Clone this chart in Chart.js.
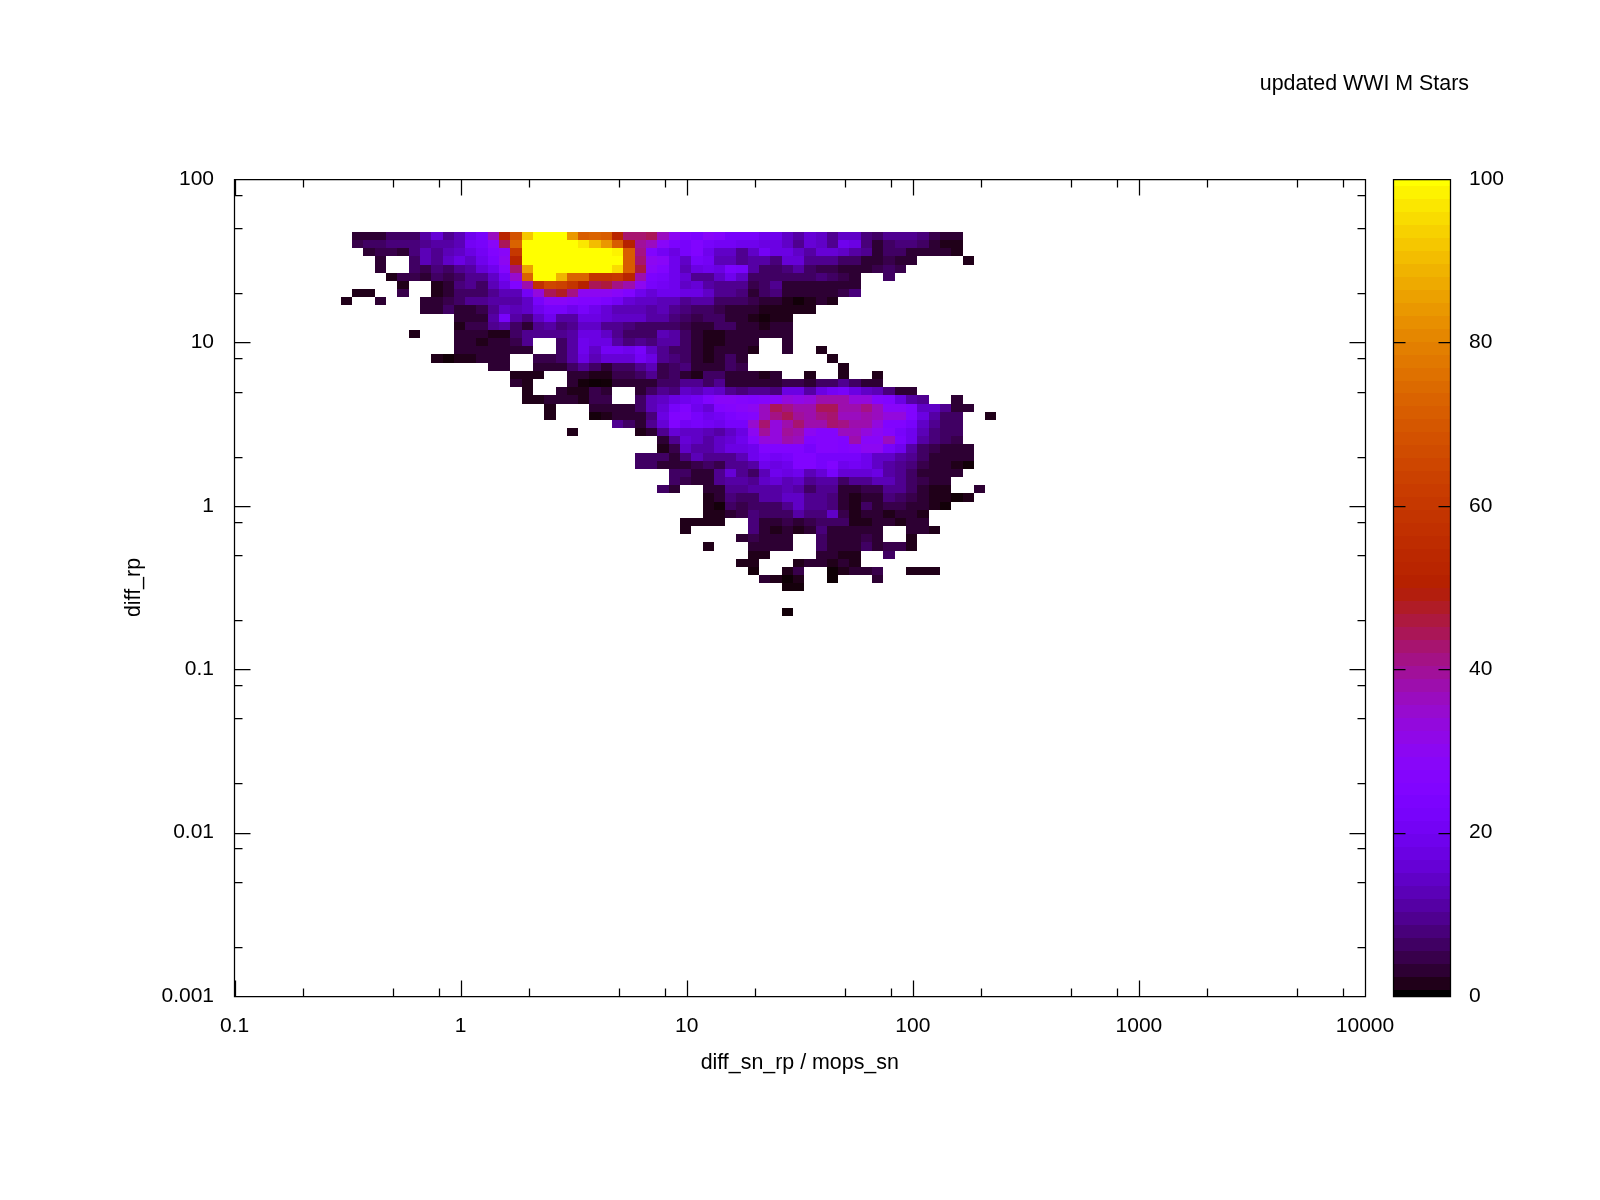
<!DOCTYPE html>
<html>
<head>
    <title>updated WWI M Stars</title>
    <script src="https://cdn.jsdelivr.net/npm/chart.js"></script>
    <style>
        html, body { margin: 0; padding: 0; background: #fff; }
        canvas { display: block; }
    </style>
</head>
<body>
    <canvas id="heatChart" width="1600" height="1200"></canvas>

<script>
// axis ticks
var xMajorTicks = [0.1, 1, 10, 100, 1000, 10000];
var yMajorTicks = [0.001, 0.01, 0.1, 1, 10, 100];
var minorMantissas = [2, 5, 8];
var cbTicks = [0, 20, 40, 60, 80, 100];

// log10 position of the bins: first column left edge, first row top edge, bin width
var xBinStart = -0.53;
var yBinTop = 1.676;
var binStep = 0.05;

// counts, one list per row from the top, null = empty cell
// rowStartCols gives the column of the first entry in each row
var rowStartCols = [1,1,2,3,3,4,5,1,0,7,10,10,6,10,10,8,13,15,15,16,16,18,18,24,20,28,28,26,26,29,29,28,32,32,32,30,30,35,32,36,35,36,37,39,0,0,39];

var r00 = [3,3,3,5,5,5,11,15,9,12,19,22,35,51,68,92,100,100,100,83,70,72,70,52,42,42,43,36,30,24,23,27,26,22,21,21,19,18,14,10,15,14,9,14,13,7,5,8,8,8,7,4,2,2];
var r01 = [4,5,6,7,7,7,8,11,10,12,20,22,27,43,73,100,100,100,100,100,96,90,84,70,50,39,36,27,23,22,25,21,20,20,18,19,17,16,14,9,15,13,9,19,16,7,3,5,7,7,6,3,1,1];
var r02 = [3,4,4,3,7,12,8,12,13,16,20,24,28,59,100,100,100,100,100,100,100,100,97,70,40,24,20,17,21,25,19,14,13,9,13,20,16,17,14,10,15,15,13,11,9,3,5,5,3,3,2,2,1];
var r03 = [2,null,null,6,12,9,13,16,14,18,23,30,52,100,100,100,100,100,100,100,100,100,70,42,30,27,19,14,22,20,12,12,8,11,11,7,15,15,8,9,9,6,6,3,2,4,3,2,null,null,null,null,1];
var r04 = [2,null,null,5,4,7,5,8,11,15,19,26,42,85,100,100,100,100,100,100,100,94,70,46,27,25,18,12,17,18,16,23,21,10,5,5,7,11,6,4,4,3,3,2,4,6,4];
var r05 = [1,4,4,3,5,4,5,8,9,13,20,34,72,100,100,88,73,72,58,58,60,52,37,23,21,19,15,9,8,14,19,13,5,5,5,5,5,6,7,5,4,3,null,null,5];
var r06 = [1,null,null,1,3,7,8,5,12,16,24,38,57,65,62,58,50,44,46,40,38,30,22,20,19,14,15,11,8,8,8,4,6,9,3,3,3,2,3,3,3];
var r07 = [1,1,null,null,4,null,null,1,3,6,6,5,8,12,12,20,33,43,47,40,30,29,29,27,25,18,15,19,19,16,17,14,8,8,7,3,5,7,3,2,2,2,2,4,7];
var r08 = [1,null,null,2,null,null,null,3,2,4,6,8,8,10,11,10,14,22,27,27,26,24,24,23,20,15,13,13,12,12,9,11,11,6,6,5,4,3,3,1,0.5,1,2,1];
var r09 = [2,2,5,3,2,4,9,14,12,14,18,22,22,19,22,18,15,12,12,12,10,12,8,7,6,6,4,3,3,2,1,1,1,1,1];
var r10 = [3,2,3,11,21,10,7,14,19,10,11,17,16,15,14,13,13,11,10,7,5,4,5,6,3,2,1,0.7,1,1];
var r11 = [1,4,4,8,11,6,3,9,11,7,9,14,14,8,8,7,5,5,5,5,4,3,3,6,6,3,2,1,2,2];
var r12 = [1,null,null,null,2,2,2,1,1,5,8,8,8,8,10,16,16,13,8,5,6,6,12,11,5,3,1,1,3,3,3,3,3,3];
var r13 = [2,2,1,2,2,4,8,null,null,6,10,18,16,17,10,7,8,7,10,10,5,3,1,1,3,3,2,null,null,3];
var r14 = [2,3,3,2,3,2,2,null,null,6,10,18,13,20,20,19,22,13,9,6,6,2,1,2,3,3,1,null,null,3,null,null,1];
var r15 = [1,0.5,1,1,3,2,3,null,null,4,4,5,10,17,12,15,15,15,20,16,8,7,6,3,1.5,2,5,3,null,null,null,null,null,null,null,1];
var r16 = [2,3,null,null,3,3,3,5,8,5,2,5,5,9,12,4,6,7,3,3,3,5,4,null,null,null,null,null,null,null,null,1];
var r17 = [1.5,1,1.5,null,null,3,2,1,1,4,4,6,8,4,5,3,1,5,6,3,3,3,1.5,2,null,null,1,null,null,1,null,null,1];
var r18 = [3,1,null,null,null,2,0.7,0.3,0.5,3,3,2,2,5,6,8,8,5,8,3,2,2,2,2,4,4,3,6,6,8,6,3,3];
var r19 = [1,null,null,2,1.5,1,4,3,null,null,3,6,8,7,13,12,15,14,9,7,9,9,7,17,17,11,16,20,22,17,13,12,7,2,2];
var r20 = [1,1,2,2,2,1,4,4,null,null,6,12,14,17,19,20,24,27,28,26,25,26,27,32,31,33,37,38,38,33,32,26,24,16,10,8,null,null,2];
var r21 = [1.5,null,null,null,3,3,3,3,6,12,15,22,24,18,15,25,26,27,30,36,43,40,38,38,43,43,38,38,41,36,28,28,25,14,14,9,3,2];
var r22 = [1,null,null,null,0.7,1,3,3,2,7,16,25,26,21,19,20,23,24,26,35,41,43,39,37,40,42,36,35,37,36,33,33,24,17,10,6,5,null,null,1];
var r23 = [8,5,2,9,15,25,20,21,20,19,21,22,34,42,32,37,42,38,38,42,41,37,38,33,25,25,21,13,8,5,5];
var r24 = [1,null,null,null,null,null,1,3,9,15,14,14,12,11,13,17,29,39,32,39,37,30,26,26,35,35,33,30,26,22,19,12,7,5,5];
var r25 = [3,8,15,13,10,13,15,18,26,33,32,37,36,24,26,26,24,37,28,28,35,23,18,11,7,6,4];
var r26 = [1,4,13,11,10,13,16,16,19,24,25,25,25,21,26,26,25,26,29,29,22,18,11,6,4,3,2,2];
var r27 = [5,6,5,2,7,12,9,8,8,12,19,21,20,21,24,24,22,22,22,22,19,14,14,11,9,5,3,3,3,3];
var r28 = [5,6,3,2,3,4,5,4,8,8,10,18,17,18,24,24,21,24,18,20,18,14,11,8,7,4,3,2,1.5,0.5];
var r29 = [5,5,3,3,8,15,8,5,12,18,17,18,12,15,22,15,15,15,17,11,8,6,3,2,2,3];
var r30 = [5,4,3,3,8,10,10,9,14,15,12,13,8,10,11,6,8,9,12,12,8,6,4,3,2];
var r31 = [5,2,null,null,3,3,8,8,10,11,10,12,11,5,9,9,3,3,4,4,8,8,6,2,1.5,1.5,null,null,2];
var r32 = [1,2,7,5,6,10,11,13,14,9,9,7,2,1.5,2,2.5,7,6,4,2,1.5,1,0.5,1];
var r33 = [1,0.6,5,4,5,6,6,9,13,9,8,7,3,1.5,5,3,4,4,3,2,1.5,0.5];
var r34 = [1.5,1.5,3,4,7,6,5,6,10,7,7,13,4,1.5,3,3,1.5,2,2,1.5];
var r35 = [1,1,1,1.5,null,null,7,3,3,3.5,3,4,6,6,5,1.5,1.5,2,3,1.5,3,3];
var r36 = [1,null,null,null,null,null,7,2,1.5,3,1.5,3,7,3,3,2,3,3,null,null,3,3,1];
var r37 = [3,4,2,3,3,null,null,5,3,2,2,4,3,null,null,1];
var r38 = [1,null,null,null,2,2,3,3,null,null,5,2,2,2,5,3,4,4,1];
var r39 = [1.5,1.5,null,null,null,null,3,2,1.5,1,null,null,6];
var r40 = [1,1,null,null,null,1,2.5,3,1.5,2.5,1.5];
var r41 = [0.8,null,null,1,3.5,null,null,0.3,1,2.5,3,4,null,null,1,1.5,1];
var r42 = [2,1,0.3,1.2,null,null,0.3,null,null,null,3];
var r43 = [0.7,0.7];
var r44 = [];
var r45 = [];
var r46 = [0.5];

var cellRows = [r00,r01,r02,r03,r04,r05,r06,r07,r08,r09,r10,r11,r12,r13,r14,r15,r16,r17,r18,r19,r20,r21,r22,r23,
    r24,r25,r26,r27,r28,r29,r30,r31,r32,r33,r34,r35,r36,r37,r38,r39,r40,r41,r42,r43,r44,r45,r46];

var CB_LEVELS = 63;   // gnuplot png: 64 palette colours

// gnuplot default pm3d palette (rgbformulae 7,5,15)
function paletteColor(t) {
    var r = Math.sqrt(t);
    var g = t * t * t;
    var b = Math.max(Math.sin(2 * Math.PI * t), 0);
    return 'rgb(' + Math.round(r * 255) + ',' + Math.round(g * 255) + ',' + Math.round(b * 255) + ')';
}

// a cell snaps up to the next palette level, anything below 1 stays near black
function cellColor(v) {
    var t = Math.min(v / 100, 1);
    if (v < 1) return paletteColor(t);
    return paletteColor(Math.ceil(t * CB_LEVELS) / CB_LEVELS);
}

var cells = [];
cellRows.forEach(function(row, j) {
    row.forEach(function(v, i) {
        if (v === null) return;
        var lx = xBinStart + binStep * (rowStartCols[j] + i);
        var ly = yBinTop - binStep * j;
        cells.push({
            x: Math.pow(10, lx + binStep / 2),
            y: Math.pow(10, ly - binStep / 2),
            xLo: Math.pow(10, lx),
            xHi: Math.pow(10, lx + binStep),
            yHi: Math.pow(10, ly),
            yLo: Math.pow(10, ly - binStep),
            v: v
        });
    });
});

function logTicks(majors) {
    var out = [];
    majors.forEach(function(m, i) {
        out.push({ value: m, major: true });
        if (i < majors.length - 1) {
            minorMantissas.forEach(function(k) { out.push({ value: m * k, major: false }); });
        }
    });
    return out;
}

var CB_LEFT = 1393.5, CB_RIGHT = 1450.5;   // colour box sits to the right of the plot

// draws heat cells, frame, inward ticks and colour box from the chart's scales
var heatPlugin = {
    id: 'heat',
    afterLayout: function(chart) {
        // tick labels of the colour axis sit past its box, don't let them get clipped
        chart.scales.cb.right = chart.width;
    },
    beforeDatasetsDraw: function(chart) {
        var ctx = chart.ctx, sx = chart.scales.x, sy = chart.scales.y;
        ctx.save();
        cells.forEach(function(c) {
            var x0 = Math.round(sx.getPixelForValue(c.xLo));
            var x1 = Math.round(sx.getPixelForValue(c.xHi));
            var y0 = Math.round(sy.getPixelForValue(c.yHi));
            var y1 = Math.round(sy.getPixelForValue(c.yLo));
            ctx.fillStyle = cellColor(c.v);
            ctx.fillRect(x0, y0, x1 - x0, y1 - y0);
        });
        ctx.restore();
    },
    afterDraw: function(chart) {
        var ctx = chart.ctx, a = chart.chartArea;
        var sx = chart.scales.x, sy = chart.scales.y, cb = chart.scales.cb;
        var left = Math.floor(a.left) + 0.5, right = Math.floor(a.right) + 0.5;
        var top = Math.floor(a.top) + 0.5, bottom = Math.floor(a.bottom) + 0.5;
        var i;

        ctx.save();
        // colour box, one rectangle per palette level, centred on the level
        for (i = 0; i <= CB_LEVELS; i++) {
            var vA = Math.max(100 * (i - 0.5) / CB_LEVELS, 0);
            var vB = Math.min(100 * (i + 0.5) / CB_LEVELS, 100);
            var yA = cb.getPixelForValue(vA);
            var yB = cb.getPixelForValue(vB);
            ctx.fillStyle = paletteColor(i / CB_LEVELS);
            ctx.fillRect(CB_LEFT, Math.floor(yB), CB_RIGHT - CB_LEFT, Math.ceil(yA) - Math.floor(yB));
        }

        ctx.strokeStyle = '#000';
        ctx.lineWidth = 1.25;
        ctx.beginPath();
        sx.ticks.forEach(function(t) {
            var p = Math.round(sx.getPixelForValue(t.value)) + 0.5;
            var len = t.major ? 16 : 8;
            ctx.moveTo(p, bottom); ctx.lineTo(p, bottom - len);
            ctx.moveTo(p, top); ctx.lineTo(p, top + len);
        });
        sy.ticks.forEach(function(t) {
            var p = Math.round(sy.getPixelForValue(t.value)) + 0.5;
            var len = t.major ? 16 : 8;
            ctx.moveTo(left, p); ctx.lineTo(left + len, p);
            ctx.moveTo(right, p); ctx.lineTo(right - len, p);
        });
        ctx.rect(left, top, right - left, bottom - top);

        // colour box ticks
        cb.ticks.forEach(function(t) {
            if (t.value === 0 || t.value === 100) return;
            var p = Math.round(cb.getPixelForValue(t.value)) + 0.5;
            ctx.moveTo(CB_LEFT, p); ctx.lineTo(CB_LEFT + 12, p);
            ctx.moveTo(CB_RIGHT, p); ctx.lineTo(CB_RIGHT - 12, p);
        });
        ctx.rect(CB_LEFT, top, CB_RIGHT - CB_LEFT, bottom - top);
        ctx.stroke();
        ctx.restore();
    }
};

var tickFont = { family: '"Liberation Sans"', size: 21 };
var labelFont = { family: '"Liberation Sans"', size: 21.4, weight: 'normal' };

var ctx = document.getElementById('heatChart').getContext('2d');
var heatChart = new Chart(ctx, {
    type: 'scatter',
    data: {
        datasets: [{
            label: 'diff_rp',
            data: cells,
            pointRadius: 0,
            pointHoverRadius: 0,
            showLine: false
        }]
    },
    options: {
        responsive: false,
        animation: false,
        devicePixelRatio: 1,
        events: [],
        layout: { padding: { left: 0, top: 0, bottom: 0, right: 131 } },
        plugins: {
            legend: { display: false },
            tooltip: { enabled: false },
            title: {
                display: true,
                text: 'updated WWI M Stars',
                align: 'end',
                color: '#000',
                font: labelFont,
                padding: { top: 71.7, bottom: 81.62 }
            }
        },
        scales: {
            x: {
                type: 'logarithmic',
                position: 'bottom',
                min: 0.1,
                max: 10000,
                grid: { display: false, drawTicks: false },
                border: { display: false },
                afterBuildTicks: function(s) { s.ticks = logTicks(xMajorTicks); },
                afterFit: function(s) { s.height = 204; },
                ticks: {
                    autoSkip: false,
                    maxRotation: 0,
                    padding: 18,
                    color: '#000',
                    font: tickFont,
                    callback: function(v) { return xMajorTicks.indexOf(v) >= 0 ? String(v) : ''; }
                },
                title: {
                    display: true,
                    text: 'diff_sn_rp / mops_sn',
                    color: '#000',
                    font: labelFont,
                    padding: { top: 0, bottom: 124 }
                }
            },
            y: {
                type: 'logarithmic',
                position: 'left',
                min: 0.001,
                max: 100,
                grid: { display: false, drawTicks: false },
                border: { display: false },
                afterBuildTicks: function(s) { s.ticks = logTicks(yMajorTicks); },
                afterFit: function(s) { s.width = 234.5; },
                ticks: {
                    autoSkip: false,
                    padding: 20.5,
                    color: '#000',
                    font: tickFont,
                    callback: function(v) { return yMajorTicks.indexOf(v) >= 0 ? String(v) : ''; }
                },
                title: {
                    display: true,
                    text: 'diff_rp',
                    color: '#000',
                    font: labelFont,
                    padding: { top: 121, bottom: 0 }
                }
            },
            cb: {
                type: 'linear',
                position: 'right',
                min: 0,
                max: 100,
                grid: { display: false, drawTicks: false },
                border: { display: false },
                afterBuildTicks: function(s) { s.ticks = cbTicks.map(function(v) { return { value: v }; }); },
                afterFit: function(s) { s.width = 104; },
                ticks: {
                    padding: 104,
                    color: '#000',
                    font: tickFont
                }
            }
        }
    },
    plugins: [heatPlugin]
});
</script>
</body>
</html>
